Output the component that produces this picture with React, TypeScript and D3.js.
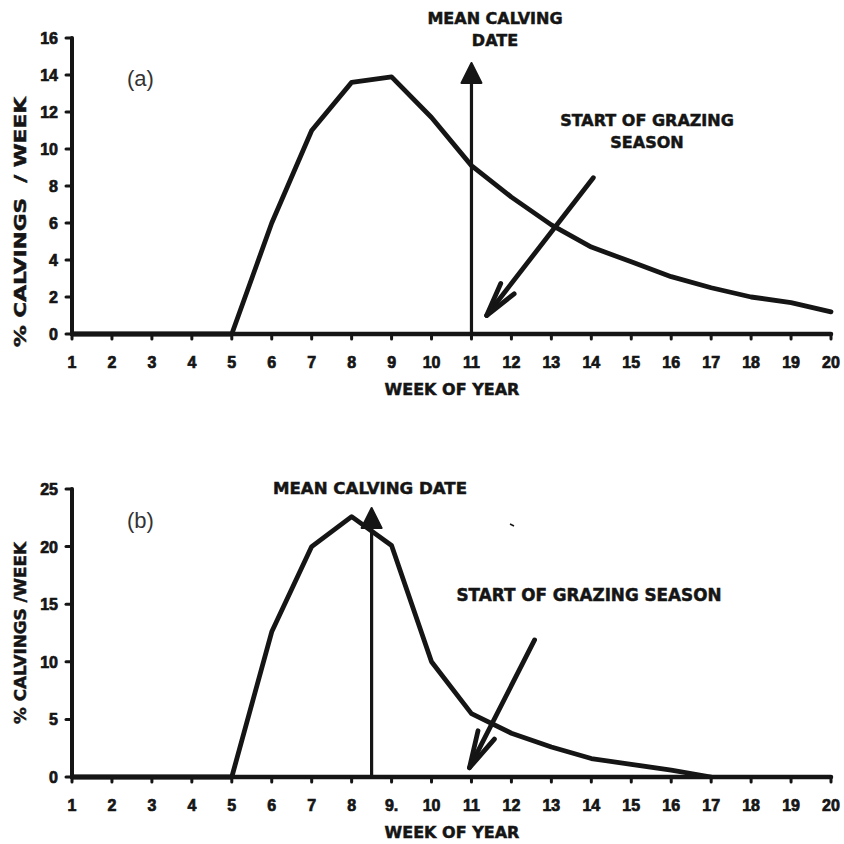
import React from "react";
import * as d3 from "d3";

const weeks = [1, 2, 3, 4, 5, 6, 7, 8, 9, 10, 11, 12, 13, 14, 15, 16, 17, 18, 19, 20];
const weekLabelsA = ["1", "2", "3", "4", "5", "6", "7", "8", "9", "10", "11", "12", "13", "14", "15", "16", "17", "18", "19", "20"];
const weekLabelsB = ["1", "2", "3", "4", "5", "6", "7", "8", "9.", "10", "11", "12", "13", "14", "15", "16", "17", "18", "19", "20"];
const calvingsA = [0, 0, 0, 0, 0, 6.0, 11.0, 13.6, 13.9, 11.7, 9.1, 7.4, 5.9, 4.7, 3.9, 3.1, 2.5, 2.0, 1.7, 1.2];
const calvingsB: (number | null)[] = [0, 0, 0, 0, 0, 12.6, 20.0, 22.6, 20.1, 10.0, 5.5, 3.8, 2.6, 1.6, 1.1, 0.6, 0.0, null, null, null];
const yTicksA = [0, 2, 4, 6, 8, 10, 12, 14, 16];
const yTicksB = [0, 5, 10, 15, 20, 25];

// annotation values (data coordinates)
const meanA = { week: 11, top: 14.65 };
const meanB = { week: 8.5, top: 23.35 };
const grazeA = { fromWeek: 14.05, fromVal: 8.45, toWeek: 11.38, toVal: 1.0 };
const grazeB = { fromWeek: 12.58, fromVal: 11.9, toWeek: 10.95, toVal: 0.8 };

const INK = "#151515";
const BOLD = "'DejaVu Sans', sans-serif";
const TICKF = "'Liberation Sans', Arial, sans-serif";

const x = d3.scaleLinear().domain([1, 20]).range([72, 831]);

const boldText = { fontFamily: BOLD, fontWeight: "bold" as const, fill: INK, stroke: INK, strokeWidth: 0.5 };

function UpArrow({ xs, y0, y1 }: { xs: number; y0: number; y1: number }) {
  return (
    <g>
      <line x1={xs} x2={xs} y1={y0} y2={y1 + 18} stroke={INK} strokeWidth={3.2} />
      <path d={`M${xs},${y1} L${xs + 10},${y1 + 20} L${xs - 10},${y1 + 20} Z`} fill={INK} stroke={INK} strokeWidth={2} strokeLinejoin="round" />
    </g>
  );
}

function OpenArrow({ x1, y1, x2, y2, len }: { x1: number; y1: number; x2: number; y2: number; len: number }) {
  const ang = Math.atan2(y1 - y2, x1 - x2);
  const a = (14 * Math.PI) / 180;
  const w1 = [x2 + len * Math.cos(ang - a), y2 + len * Math.sin(ang - a)];
  const w2 = [x2 + len * Math.cos(ang + a), y2 + len * Math.sin(ang + a)];
  return (
    <g stroke={INK} strokeWidth={4.8} strokeLinecap="round" fill="none" strokeLinejoin="round">
      <line x1={x1} y1={y1} x2={x2} y2={y2} />
      <path d={`M${w1[0]},${w1[1]} L${x2},${y2} L${w2[0]},${w2[1]}`} />
    </g>
  );
}

function Panel({
  y,
  data,
  yTicks,
  xLabels,
  panelLabel,
  panelLabelY,
  yLabel,
  yLabelLen,
  yLabelCy,
  xTitleY,
  mean,
  graze,
  arrowLen,
  children,
}: any) {
  const line = d3
    .line<[number, number | null]>()
    .defined((d) => d[1] !== null)
    .x((d) => x(d[0]))
    .y((d) => y(d[1] as number));
  const pts: [number, number | null][] = weeks.map((w, i) => [w, data[i]]);
  const y0 = y(0);
  const yTop = y(yTicks[yTicks.length - 1]);
  return (
    <g>
      {/* axes */}
      <line x1={x(1)} x2={x(20)} y1={y0} y2={y0} stroke={INK} strokeWidth={4.5} strokeLinecap="round" />
      <line x1={x(1)} x2={x(1)} y1={y0} y2={yTop} stroke={INK} strokeWidth={4} strokeLinecap="round" />
      {weeks.map((w, i) => (
        <g key={"xt" + w}>
          <line x1={x(w)} x2={x(w)} y1={y0} y2={y0 + 5} stroke={INK} strokeWidth={3} strokeLinecap="round" />
          <text x={x(w)} y={y0 + 34} textAnchor="middle" fontFamily={TICKF} fontWeight="bold" fontSize={16} fill={INK} stroke={INK} strokeWidth={0.7}>
            {xLabels[i]}
          </text>
        </g>
      ))}
      {yTicks.map((t: number) => (
        <g key={"yt" + t}>
          <line x1={x(1) - 6} x2={x(1)} y1={y(t)} y2={y(t)} stroke={INK} strokeWidth={3} strokeLinecap="round" />
          <text x={x(1) - 14} y={y(t) + 6} textAnchor="end" fontFamily={TICKF} fontWeight="bold" fontSize={16} fill={INK} stroke={INK} strokeWidth={0.7}>
            {t}
          </text>
        </g>
      ))}
      <text
        transform={`translate(26,${yLabelCy}) rotate(-90)`}
        textAnchor="middle"
        fontSize={16}
        {...boldText}
        textLength={yLabelLen}
        lengthAdjust="spacingAndGlyphs"
        style={{ whiteSpace: "pre" }}
      >
        {yLabel}
      </text>
      <text x={452} y={xTitleY} textAnchor="middle" fontSize={16} {...boldText}>
        WEEK OF YEAR
      </text>
      <text x={127} y={panelLabelY} fontFamily="'Liberation Sans', Arial, sans-serif" fontSize={22} fill="#333">
        {panelLabel}
      </text>
      {/* data line */}
      <path d={line(pts) || ""} fill="none" stroke={INK} strokeWidth={4.8} strokeLinejoin="round" strokeLinecap="round" />
      {/* annotations */}
      <UpArrow xs={x(mean.week)} y0={y0} y1={y(mean.top)} />
      <OpenArrow x1={x(graze.fromWeek)} y1={y(graze.fromVal)} x2={x(graze.toWeek)} y2={y(graze.toVal)} len={arrowLen} />
      {children}
    </g>
  );
}

export default function App() {
  const yA = d3.scaleLinear().domain([0, 16]).range([334, 38]);
  const yB = d3.scaleLinear().domain([0, 25]).range([777, 489]);
  return (
    <svg width={844} height={844} style={{ position: "absolute", left: 0, top: 0, background: "#fff" }}>
      <rect width={844} height={844} fill="#fff" />
      <Panel
        y={yA}
        data={calvingsA}
        yTicks={yTicksA}
        xLabels={weekLabelsA}
        panelLabel="(a)"
        panelLabelY={86}
        yLabel="% CALVINGS  / WEEK"
        yLabelLen={250}
        yLabelCy={222}
        xTitleY={395}
        mean={meanA}
        graze={grazeA}
        arrowLen={35}
      >
        <text x={495} y={24} textAnchor="middle" fontSize={16} {...boldText}>
          MEAN CALVING
        </text>
        <text x={495} y={46} textAnchor="middle" fontSize={16} {...boldText}>
          DATE
        </text>
        <text x={647} y={126} textAnchor="middle" fontSize={16} {...boldText}>
          START OF GRAZING
        </text>
        <text x={647} y={148} textAnchor="middle" fontSize={16} {...boldText}>
          SEASON
        </text>
      </Panel>
      <Panel
        y={yB}
        data={calvingsB}
        yTicks={yTicksB}
        xLabels={weekLabelsB}
        panelLabel="(b)"
        panelLabelY={528}
        yLabel="% CALVINGS /WEEK"
        yLabelLen={182}
        yLabelCy={633}
        xTitleY={838}
        mean={meanB}
        graze={grazeB}
        arrowLen={38}
      >
        <text x={370} y={494} textAnchor="middle" fontSize={16.6} {...boldText}>
          MEAN CALVING DATE
        </text>
        <text x={589} y={601} textAnchor="middle" fontSize={16.8} {...boldText}>
          START OF GRAZING SEASON
        </text>
        <line x1={510} y1={524} x2={514} y2={526} stroke={INK} strokeWidth={1.5} />
      </Panel>
    </svg>
  );
}
